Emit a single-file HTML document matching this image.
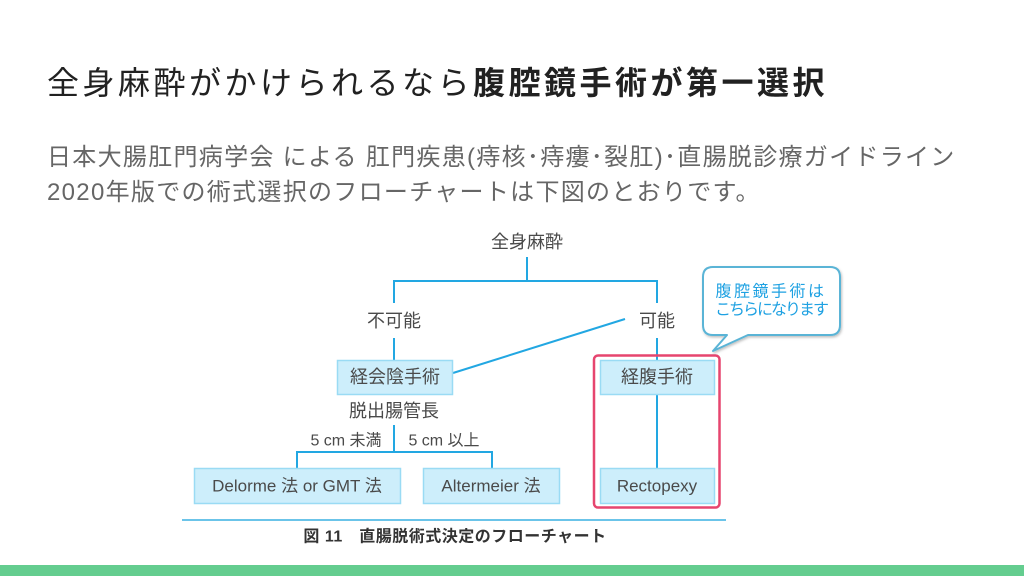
<!DOCTYPE html>
<html lang="ja">
<head>
<meta charset="utf-8">
<style>
  html, body { margin:0; padding:0; }
  body { width:1024px; height:576px; position:relative; overflow:hidden; background:#fff;
         font-family:"Liberation Sans","Noto Sans CJK JP",sans-serif; }
  .title { position:absolute; left:47px; top:63px; font-size:32px; line-height:40px;
           letter-spacing:3.5px; color:#212121; white-space:nowrap; }
  .title b { font-weight:700; }
  .para { position:absolute; left:47px; top:140px; font-size:24px; line-height:35px;
          color:#666; white-space:nowrap; }
  .para .l1 { letter-spacing:1.3px; }
  .para .l2 { letter-spacing:1.3px; }
  .green { position:absolute; left:0; top:565px; width:1024px; height:11px; background:#64cd8f; }
  svg { position:absolute; left:0; top:0; }
  svg text { font-family:"Liberation Sans","Noto Sans CJK JP",sans-serif; }
</style>
</head>
<body>
<div class="title">全身麻酔がかけられるなら<b>腹腔鏡手術が第一選択</b></div>
<div class="para"><div class="l1">日本大腸肛門病学会 による 肛門疾患(痔核･痔瘻･裂肛)･直腸脱診療ガイドライン</div><div class="l2">2020年版での術式選択のフローチャートは下図のとおりです。</div></div>

<svg width="1024" height="576" viewBox="0 0 1024 576">
  <defs>
    <filter id="sh" x="-10%" y="-10%" width="130%" height="140%">
      <feDropShadow dx="1" dy="1.5" stdDeviation="1.2" flood-color="#000" flood-opacity="0.25"/>
    </filter>
  </defs>
  <g stroke="#22a7e2" stroke-width="2" fill="none">
    <line x1="527" y1="257" x2="527" y2="281"/>
    <line x1="393" y1="281" x2="658" y2="281"/>
    <line x1="394" y1="281" x2="394" y2="303"/>
    <line x1="394" y1="338" x2="394" y2="360"/>
    <line x1="657" y1="281" x2="657" y2="303"/>
    <line x1="657" y1="338" x2="657" y2="360"/>
    <line x1="453" y1="373" x2="625" y2="319"/>
    <line x1="394" y1="425" x2="394" y2="452"/>
    <line x1="296" y1="452" x2="493" y2="452"/>
    <line x1="297" y1="452" x2="297" y2="468"/>
    <line x1="492" y1="452" x2="492" y2="468"/>
    <line x1="657" y1="395" x2="657" y2="468"/>
  </g>
  <line x1="182" y1="520" x2="726" y2="520" stroke="#3ab0e2" stroke-width="1.6"/>

  <!-- red highlight -->
  <rect x="594" y="355.5" width="125.5" height="152" rx="4" fill="none" stroke="#e6456f" stroke-width="2.5"/>

  <!-- boxes -->
  <g fill="#cdeefb" stroke="#9adbf4" stroke-width="1.5">
    <rect x="337.5" y="360.5" width="115" height="34"/>
    <rect x="600.5" y="360.5" width="114" height="34"/>
    <rect x="194.5" y="468.5" width="206" height="35"/>
    <rect x="423.5" y="468.5" width="136" height="35"/>
    <rect x="600.5" y="468.5" width="114" height="35"/>
  </g>

  <!-- callout -->
  <g filter="url(#sh)">
    <path d="M713,267 H830 Q840,267 840,277 V325 Q840,335 830,335 H748 L713,351 L727,335 H713 Q703,335 703,325 V277 Q703,267 713,267 Z"
          fill="#fff" stroke="#5ab4d6" stroke-width="2" stroke-linejoin="round"/>
  </g>
  <text x="771" y="292" font-size="16" fill="#1ea1e2" text-anchor="middle" dominant-baseline="central" letter-spacing="2.5">腹腔鏡手術は</text>
  <text x="771" y="310" font-size="16" fill="#1ea1e2" text-anchor="middle" dominant-baseline="central" letter-spacing="-2">こちらになります</text>

  <!-- labels -->
  <g font-size="18" fill="#4a4a4a" text-anchor="middle" dominant-baseline="central">
    <text x="527" y="242">全身麻酔</text>
    <text x="394" y="321">不可能</text>
    <text x="657" y="321">可能</text>
    <text x="395" y="377">経会陰手術</text>
    <text x="657" y="377">経腹手術</text>
    <text x="394" y="411">脱出腸管長</text>
    <text x="297" y="486" font-size="17">Delorme 法 or GMT 法</text>
    <text x="491" y="486" font-size="17">Altermeier 法</text>
    <text x="657" y="486" font-size="17">Rectopexy</text>
    <text x="346" y="441" font-size="16">5 cm 未満</text>
    <text x="444" y="441" font-size="16">5 cm 以上</text>
  </g>
  <text x="455" y="537" font-size="16" font-weight="700" fill="#333" text-anchor="middle" dominant-baseline="central" letter-spacing="0.5">図 11　直腸脱術式決定のフローチャート</text>
</svg>

<div class="green"></div>
</body>
</html>
